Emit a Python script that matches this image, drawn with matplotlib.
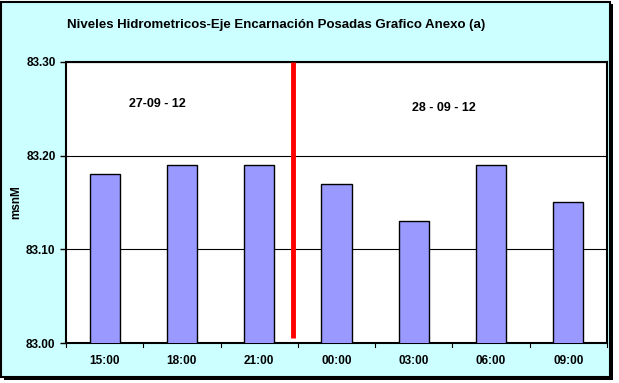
import matplotlib
matplotlib.use("Agg")
import matplotlib.pyplot as plt
from matplotlib.patches import Rectangle

categories = ["15:00", "18:00", "21:00", "00:00", "03:00", "06:00", "09:00"]
values = [83.18, 83.19, 83.19, 83.17, 83.13, 83.19, 83.15]
yticks = [83.00, 83.10, 83.20, 83.30]
title = "Niveles Hidrometricos-Eje Encarnación Posadas Grafico Anexo (a)"
day1 = "27-09 - 12"
day2 = "28 - 09 - 12"

plt.rcParams['font.family'] = ['Liberation Sans', 'DejaVu Sans']

W, H = 619, 383
fig = plt.figure(figsize=(W/100, H/100), dpi=100)
fig.patch.set_facecolor("white")

# outer frame with shadow
fig.add_artist(Rectangle((4/W, 1 - 380/H), 609/W, 376/H, transform=fig.transFigure,
                         facecolor="black", edgecolor="none", zorder=-2))
fig.add_artist(Rectangle((1/W, 1 - 377/H), 609/W, 375/H, transform=fig.transFigure,
                         facecolor="#CCFFFF", edgecolor="black", linewidth=1.5, zorder=-1))

ax = fig.add_axes([66/W, 1 - 343/H, (607-66)/W, (343-62)/H])
ax.set_facecolor("white")
x = list(range(len(categories)))
ax.bar(x, values, width=0.39, bottom=0, color="#9999FF", edgecolor="black", linewidth=1.0, zorder=3)
ax.set_xlim(-0.5, len(categories) - 0.5)
ax.set_ylim(yticks[0], yticks[-1])
ax.set_yticks(yticks)
ax.set_yticklabels([f"{v:.2f}" for v in yticks], fontsize=8.5, fontweight="bold")
ax.set_xticks(x)
ax.set_xticklabels(categories, fontsize=8.5, fontweight="bold")
ax.tick_params(axis="x", length=0, pad=9)
ax.tick_params(axis="y", length=4, direction="out", width=1)
# category boundary ticks
for b in [i - 0.5 for i in range(len(categories) + 1)]:
    ax.plot([b, b], [yticks[0], yticks[0] - 0.004], color="black", lw=0.8, clip_on=False, zorder=4)
ax.yaxis.grid(True, color="black", linewidth=0.8, zorder=0)
ax.set_axisbelow(True)
for s in ax.spines.values():
    s.set_linewidth(1.5)
    s.set_color("black")
ax.set_ylabel("msnM", fontsize=8.5, fontweight="bold", labelpad=3)

ax.plot([2.44, 2.44], [83.005, 83.30], color="red", linewidth=3.5, zorder=5, solid_capstyle="butt")
ax.text(0.68, 83.255, day1, fontsize=9, fontweight="bold", ha="center", va="center")
ax.text(4.39, 83.251, day2, fontsize=9, fontweight="bold", ha="center", va="center")

fig.text(276/W, 1 - 25/H, title, fontsize=9.5, fontweight="bold", ha="center", va="center")

fig.savefig("out.png", dpi=100)
